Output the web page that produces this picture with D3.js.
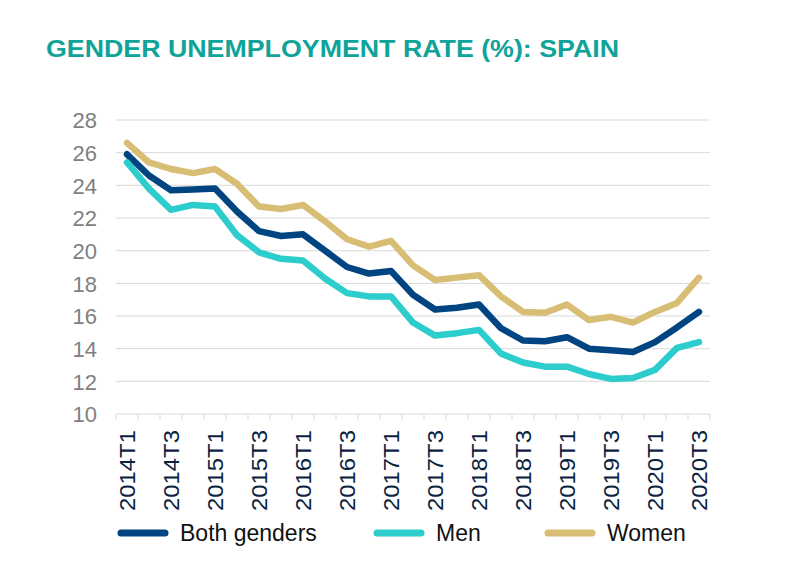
<!DOCTYPE html>
<html>
<head>
<meta charset="utf-8">
<script src="https://cdn.jsdelivr.net/npm/d3@7"></script>
<style>
  html, body { margin: 0; padding: 0; background: #fff; }
  svg { display: block; font-family: "Liberation Sans", Arial, sans-serif; }
</style>
</head>
<body>
<svg id="chart" width="786" height="576"></svg>
<script>
const quarters = [
  "2014T1","2014T2","2014T3","2014T4",
  "2015T1","2015T2","2015T3","2015T4",
  "2016T1","2016T2","2016T3","2016T4",
  "2017T1","2017T2","2017T3","2017T4",
  "2018T1","2018T2","2018T3","2018T4",
  "2019T1","2019T2","2019T3","2019T4",
  "2020T1","2020T2","2020T3"
];
const bothGenders = [25.9,24.6,23.7,23.75,23.8,22.4,21.2,20.9,21.0,20.0,19.0,18.6,18.75,17.3,16.4,16.5,16.7,15.25,14.5,14.45,14.7,14.0,13.9,13.8,14.4,15.3,16.25];
const men         = [25.4,23.8,22.5,22.8,22.7,20.95,19.9,19.5,19.4,18.3,17.4,17.2,17.2,15.6,14.8,14.95,15.15,13.7,13.15,12.9,12.9,12.45,12.15,12.2,12.7,14.05,14.4];
const women       = [26.6,25.4,25.0,24.75,25.0,24.1,22.7,22.55,22.8,21.8,20.7,20.25,20.6,19.1,18.2,18.35,18.5,17.2,16.25,16.2,16.7,15.75,15.95,15.6,16.25,16.8,18.35];
const yTicks = [10,12,14,16,18,20,22,24,26,28];
const seriesNames = ["Both genders","Men","Women"];
const seriesColors = ["#004481","#2DCCCD","#D8BE75"];

const svg = d3.select("#chart");
const x = d3.scaleBand().domain(quarters).range([116, 710]).padding(0);
const y = d3.scaleLinear().domain([10, 28]).range([414, 120]);

// title
svg.append("text")
  .attr("x", 46).attr("y", 57)
  .attr("fill", "#0FA39A")
  .attr("font-weight", "bold")
  .attr("font-size", 24)
  .attr("textLength", 573)
  .attr("lengthAdjust", "spacingAndGlyphs")
  .text("GENDER UNEMPLOYMENT RATE (%): SPAIN");

// gridlines
svg.append("g").selectAll("line")
  .data(yTicks.filter(d => d > 10))
  .join("line")
  .attr("x1", 116).attr("x2", 710)
  .attr("y1", d => y(d)).attr("y2", d => y(d))
  .attr("stroke", "#d9d9d9").attr("stroke-width", 1);

// y axis labels
const yAxis = d3.axisLeft(y).tickValues(yTicks).tickSize(0).tickPadding(0).tickFormat(d3.format("d"));
const gy = svg.append("g").attr("transform", "translate(97,0)").call(yAxis);
gy.select(".domain").remove();
gy.selectAll("text").attr("fill", "#808080").attr("font-size", 22)
  .attr("font-family", "Liberation Sans, Arial, sans-serif").attr("dy", "0.36em");

// x axis baseline and ticks (between categories)
const gx = svg.append("g");
gx.append("line").attr("x1", 116).attr("x2", 710).attr("y1", y(10)).attr("y2", y(10))
  .attr("stroke", "#d9d9d9").attr("stroke-width", 1);
const edges = quarters.map(q => x(q)).concat([x(quarters[quarters.length-1]) + x.bandwidth()]);
gx.selectAll("line.tick").data(edges).join("line").attr("class", "tick")
  .attr("x1", d => d).attr("x2", d => d)
  .attr("y1", y(10)).attr("y2", y(10) + 6)
  .attr("stroke", "#d9d9d9").attr("stroke-width", 1);

// x labels (every other)
gx.selectAll("text").data(quarters.filter((d, i) => i % 2 === 0)).join("text")
  .attr("transform", d => `translate(${x(d) + x.bandwidth()/2 + 8},${y(10) + 16}) rotate(-90)`)
  .attr("text-anchor", "end")
  .attr("fill", "#0B2240")
  .attr("font-size", 22)
  .attr("textLength", 81)
  .attr("lengthAdjust", "spacingAndGlyphs")
  .text(d => d);

// lines
const line = d3.line().x((d, i) => x(quarters[i]) + x.bandwidth()/2).y(d => y(d)).curve(d3.curveLinear);
[bothGenders, men, women].forEach((s, k) => {
  svg.append("path").datum(s)
    .attr("d", line)
    .attr("fill", "none")
    .attr("stroke", seriesColors[k])
    .attr("stroke-width", 6.5)
    .attr("stroke-linejoin", "round")
    .attr("stroke-linecap", "round");
});

// legend
const legendX = [118, 374, 545];
const lg = svg.append("g");
seriesNames.forEach((name, k) => {
  lg.append("line")
    .attr("x1", legendX[k] + 3).attr("x2", legendX[k] + 47)
    .attr("y1", 533).attr("y2", 533)
    .attr("stroke", seriesColors[k]).attr("stroke-width", 7).attr("stroke-linecap", "round");
  lg.append("text")
    .attr("x", legendX[k] + 62).attr("y", 541)
    .attr("font-size", 23).attr("fill", "#111")
    .text(name);
});
</script>
</body>
</html>
